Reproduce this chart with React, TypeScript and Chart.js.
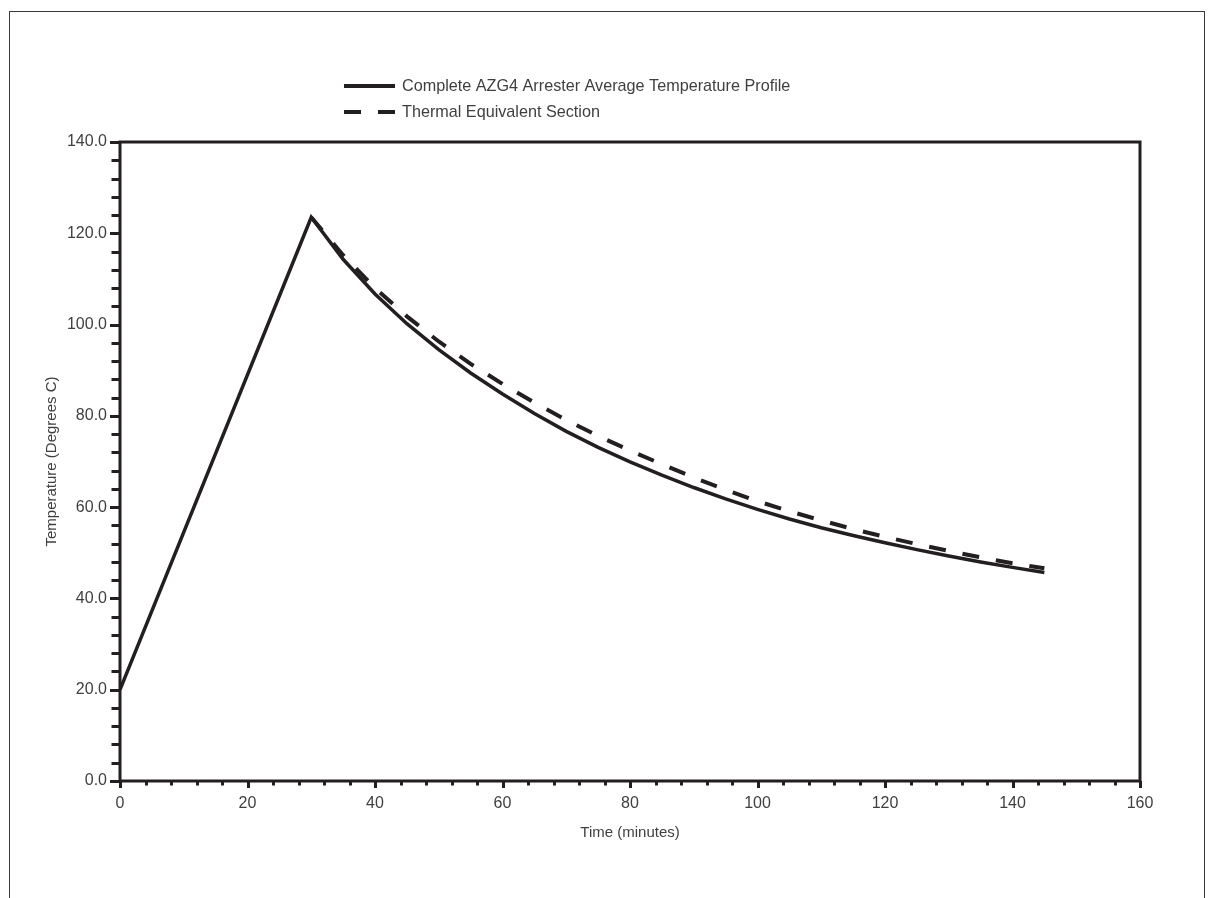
import React, { useEffect, useRef } from 'react';
import { Chart, registerables } from 'chart.js';

Chart.register(...registerables);

// ---- data ----
const riseTimes = [0, 30];
const riseTemps = [20.0, 123.5];

const decayTimes = [30, 35, 40, 45, 50, 55, 60, 65, 70, 75, 80, 85, 90, 95, 100, 105, 110, 115, 120, 125, 130, 135, 140, 145];
const completeDecay = [123.5, 114.3, 106.7, 100.2, 94.5, 89.4, 84.8, 80.5, 76.6, 73.1, 69.9, 67.0, 64.3, 61.8, 59.5, 57.4, 55.5, 53.8, 52.2, 50.7, 49.3, 48.0, 46.8, 45.7];
const equivalentDecay = [123.5, 115.2, 108.0, 101.8, 96.3, 91.4, 87.0, 82.9, 79.1, 75.6, 72.4, 69.4, 66.5, 63.8, 61.3, 59.1, 57.1, 55.2, 53.5, 51.9, 50.4, 49.0, 47.7, 46.6];

const seriesLabels = [
  'Complete AZG4 Arrester Average Temperature Profile',
  'Thermal Equivalent Section',
];

const xTitle = 'Time (minutes)';
const yTitle = 'Temperature (Degrees C)';

const X_MIN = 0;
const X_MAX = 160;
const X_STEP = 20;
const Y_MIN = 0;
const Y_MAX = 140;
const Y_STEP = 20;
const MINOR_STEP = 4;

const INK = '#231f20';
const TEXT = '#3f3f3f';
const FONT = "'Liberation Sans', Arial, Helvetica, sans-serif";

const framePlugin = {
  id: 'frameTicksLegend',
  afterDraw(chart: any) {
    const { ctx, chartArea: a, scales } = chart;
    const xs = scales.x;
    const ys = scales.y;
    ctx.save();
    ctx.strokeStyle = INK;
    ctx.lineWidth = 3;
    ctx.lineCap = 'butt';
    // x ticks (major + minor)
    for (let v = X_MIN; v <= X_MAX + 1e-9; v += MINOR_STEP) {
      const px = Math.round(xs.getPixelForValue(v)) + 0.5;
      const major = Math.abs(v % X_STEP) < 1e-9;
      ctx.beginPath();
      ctx.moveTo(px, a.bottom);
      ctx.lineTo(px, a.bottom + (major ? 7 : 4.5));
      ctx.stroke();
    }
    // y ticks (major + minor)
    for (let v = Y_MIN; v <= Y_MAX + 1e-9; v += MINOR_STEP) {
      const py = Math.round(ys.getPixelForValue(v)) + 0.5;
      const major = Math.abs(v % Y_STEP) < 1e-9;
      ctx.beginPath();
      ctx.moveTo(a.left, py);
      ctx.lineTo(a.left - (major ? 10 : 8.5), py);
      ctx.stroke();
    }
    // frame
    ctx.strokeRect(a.left, a.top, a.right - a.left, a.bottom - a.top);

    // legend
    const lx0 = 334;
    const lx1 = 385;
    const ly0 = 74;
    const dy = 26;
    ctx.font = `16.2px ${FONT}`;
    ctx.textBaseline = 'middle';
    ctx.textAlign = 'left';
    chart.data.datasets.forEach((ds: any, i: number) => {
      const y = ly0 + i * dy;
      ctx.save();
      ctx.strokeStyle = ds.borderColor;
      ctx.lineWidth = 4;
      ctx.setLineDash(ds.borderDash || []);
      ctx.beginPath();
      ctx.moveTo(lx0, y);
      ctx.lineTo(lx1, y);
      ctx.stroke();
      ctx.restore();
      ctx.fillStyle = TEXT;
      ctx.fillText(ds.label, 392, y + 1);
    });
    ctx.restore();
  },
};

export default function App() {
  const canvasRef = useRef<HTMLCanvasElement | null>(null);

  useEffect(() => {
    if (!canvasRef.current) return;
    const completeData = [
      ...riseTimes.map((t, i) => ({ x: t, y: riseTemps[i] })),
      ...decayTimes.slice(1).map((t, i) => ({ x: t, y: completeDecay[i + 1] })),
    ];
    const equivalentData = decayTimes.map((t, i) => ({ x: t, y: equivalentDecay[i] }));

    const chart = new Chart(canvasRef.current, {
      type: 'line',
      data: {
        datasets: [
          {
            label: seriesLabels[0],
            data: completeData,
            borderColor: INK,
            borderWidth: 3.5,
            pointRadius: 0,
            tension: 0,
            fill: false,
          },
          {
            label: seriesLabels[1],
            data: equivalentData,
            borderColor: INK,
            borderWidth: 4,
            borderDash: [17, 17],
            pointRadius: 0,
            tension: 0,
            fill: false,
          },
        ],
      },
      options: {
        animation: false,
        responsive: true,
        maintainAspectRatio: false,
        layout: { padding: { top: 130, right: 64, left: 0, bottom: 0 } },
        plugins: {
          legend: { display: false },
          tooltip: { enabled: false },
        },
        scales: {
          x: {
            type: 'linear',
            min: X_MIN,
            max: X_MAX,
            grid: { display: false, drawTicks: false },
            border: { display: false },
            ticks: {
              stepSize: X_STEP,
              autoSkip: false,
              maxRotation: 0,
              padding: 13,
              color: TEXT,
              font: { family: FONT, size: 16 },
              callback: (v: any) => String(v),
            },
            title: {
              display: true,
              text: xTitle,
              color: TEXT,
              font: { family: FONT, size: 15 },
              padding: { top: 0, bottom: 56 },
            },
            afterFit: (s: any) => {
              s.height = 117;
            },
          },
          y: {
            type: 'linear',
            min: Y_MIN,
            max: Y_MAX,
            grid: { display: false, drawTicks: false },
            border: { display: false },
            ticks: {
              stepSize: Y_STEP,
              autoSkip: false,
              padding: 13,
              color: TEXT,
              font: { family: FONT, size: 16 },
              callback: (v: any) => Number(v).toFixed(1),
            },
            title: {
              display: true,
              text: yTitle,
              color: TEXT,
              font: { family: FONT, size: 15 },
              padding: { top: 33, bottom: 0 },
            },
            afterFit: (s: any) => {
              s.width = 110;
            },
          },
        },
      },
      plugins: [framePlugin],
    });
    return () => chart.destroy();
  }, []);

  return (
    <div
      style={{
        position: 'absolute',
        left: 9,
        top: 11,
        width: 1194,
        height: 900,
        border: '1px solid #3a3a3a',
        background: '#fff',
      }}
    >
      <div style={{ position: 'relative', width: 1194, height: 886 }}>
        <canvas ref={canvasRef} />
      </div>
    </div>
  );
}
